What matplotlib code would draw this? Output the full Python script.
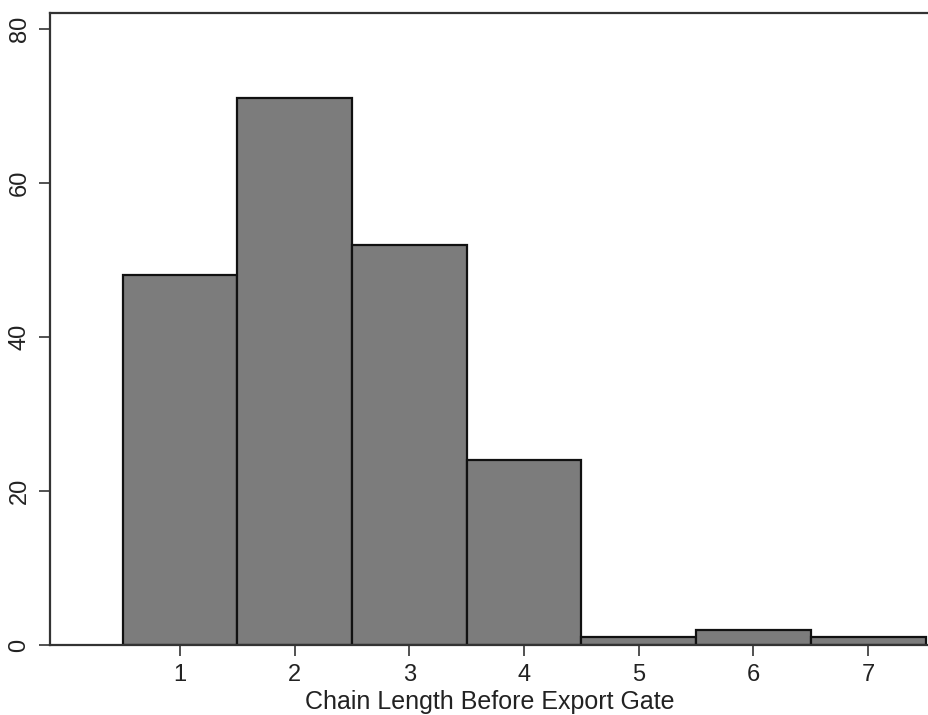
import matplotlib
matplotlib.use("Agg")
import matplotlib.pyplot as plt
import numpy as np

chain_length = [1, 2, 3, 4, 5, 6, 7]
counts = [48, 71, 52, 24, 1, 2, 1]
y_ticks = [0, 20, 40, 60, 80]

plt.rcParams["font.family"] = ["Liberation Sans", "DejaVu Sans"]

fig = plt.figure(figsize=[9.29, 7.15], dpi=100)
ax = fig.add_axes([50 / 929, 70 / 715, 1 - 50 / 929, 632 / 715])

ax.bar(
    chain_length,
    counts,
    width=1.0,
    color="#7c7c7c",
    edgecolor="#111111",
    linewidth=1.6,
    align="center",
)

ax.set_xlim(-0.133, 7.53)
ax.set_ylim(0, 82.1)
ax.set_xticks(chain_length)
ax.set_yticks(y_ticks)
ax.set_yticklabels([str(v) for v in y_ticks], rotation=90, va="center")

ax.tick_params(axis="both", length=8, width=1.2, color="#333333",
               labelsize=17, labelcolor="#222222")
ax.tick_params(axis="x", pad=6)
ax.tick_params(axis="y", pad=6)

for side in ["left", "top", "bottom"]:
    ax.spines[side].set_linewidth(1.6)
    ax.spines[side].set_color("#333333")
ax.spines["right"].set_visible(False)

ax.set_xlabel("Chain Length Before Export Gate", fontsize=18, color="#222222", labelpad=2.5)

fig.savefig("out.png", dpi=100)
plt.close(fig)
